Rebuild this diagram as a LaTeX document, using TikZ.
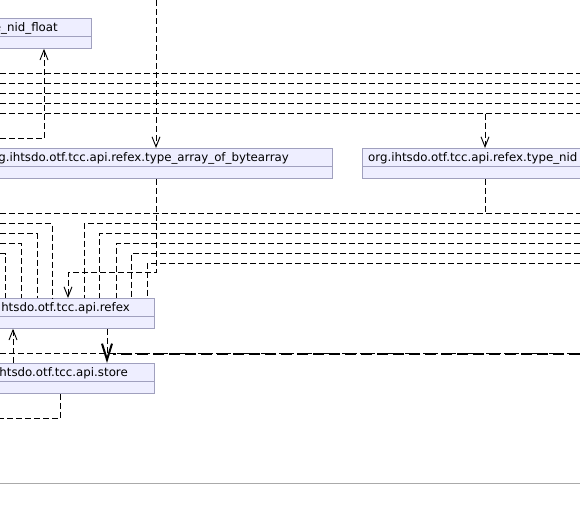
\documentclass[tikz,border=0pt]{standalone}
\usepackage{fontspec}
\setmainfont{DejaVu Sans}
\usetikzlibrary{arrows.meta}
\definecolor{boxfill}{RGB}{238,238,255}
\definecolor{boxline}{RGB}{160,160,190}
\definecolor{rulegray}{RGB}{170,170,170}
\begin{document}
\begin{tikzpicture}[x=1pt,y=-1pt,
  dep/.style={line width=0.9pt, dash pattern=on 6pt off 3pt},
  tip/.style={-{Straight Barb[length=10pt,width=8pt,line width=0.9pt]}},
  bigtip/.style={-{Straight Barb[length=16pt,width=10pt,line width=2pt]}},
  thickdep/.style={line width=2pt, dash pattern=on 11pt off 5pt},
  box/.style={draw=boxline, fill=boxfill, line width=0.8pt, inner sep=0pt, minimum height=30pt, anchor=north west},
  sep/.style={draw=boxline, line width=0.8pt},
  cname/.style={font=\fontsize{11.8}{14}\selectfont, inner sep=0pt}]
\useasboundingbox (0,0) rectangle (580,520);
\clip (0,0) rectangle (580,520);

% class boxes
\node[box, minimum width=400pt] (floatbox) at (-309,18) {};
\node[box, minimum width=640pt] (arraybox) at (-308,148) {};
\node[box, minimum width=300pt] (nidbox) at (362,148) {};
\node[box, minimum width=400pt] (refex) at (-246,298) {};
\node[box, minimum width=400pt] (store) at (-246,363) {};
\foreach \b in {floatbox,arraybox,nidbox,refex,store}
  \draw[sep] ([yshift=-18.5pt]\b.north west) -- ([yshift=-18.5pt]\b.north east);

\node[cname, anchor=base east] (floatname) at (58,31) {e\_nid\_float};
\node[cname, anchor=base east] (arrayname) at (289,161) {g.ihtsdo.otf.tcc.api.refex.type\_array\_of\_bytearray};
\node[cname, anchor=base west] (nidname) at (368,161) {org.ihtsdo.otf.tcc.api.refex.type\_nid};
\node[cname, anchor=base east] (refexname) at (130,311) {htsdo.otf.tcc.api.refex};
\node[cname, anchor=base east] (storename) at (128,376) {htsdo.otf.tcc.api.store};

% top area
\coordinate (topA) at (156,0);
\draw[dep,tip] (topA) -- (topA |- arraybox.north);
\foreach \y in {73.5,83.5,93.5,103.5,113.5}
  \draw[dep] (0,\y) -- (580,\y);
\coordinate (n485) at (485,113.5);
\draw[dep,tip] (n485) -- (n485 |- nidbox.north);
\coordinate (w138) at (0,138.5);
\coordinate (c44) at (44,0);
\draw[dep,tip] (w138) -| (c44 |- floatbox.south);

% middle area
\coordinate (r213) at (0,213.5);
\coordinate (r272) at (0,272.5);
\coordinate (c68) at (68,0);
\draw[dep] (r213) -- (580,213.5);
\draw[dep] (n485 |- nidbox.south) -- (n485 |- r213);
\draw[dep,tip] (topA |- arraybox.south) -- (topA |- r272) -| (c68 |- refex.north);
\foreach \y/\x in {223.5/52, 233.5/37, 243.5/21.5, 253.5/5.5}
  \draw[dep] (0,\y) -| (\x,0 |- refex.north);
\foreach \y/\x in {223.5/84, 233.5/99.5, 243.5/116, 253.5/131, 263.5/147}
  \draw[dep] (580,\y) -| (\x,0 |- refex.north);

% lower area
\draw[dep] (0,353.5) -- (580,353.5);
\draw[thickdep] (580,353.5) -- (113,353.5);
\draw[dep,tip] (13,0 |- store.north) -- (13,0 |- refex.south);
\draw[dep,bigtip] (107,0 |- refex.south) -- (107,0 |- store.north);
\draw[dep] (60,0 |- store.south) |- (0,418.5);

\draw[rulegray, line width=1.2pt] (0,483.5) -- (580,483.5);
\end{tikzpicture}
\end{document}
